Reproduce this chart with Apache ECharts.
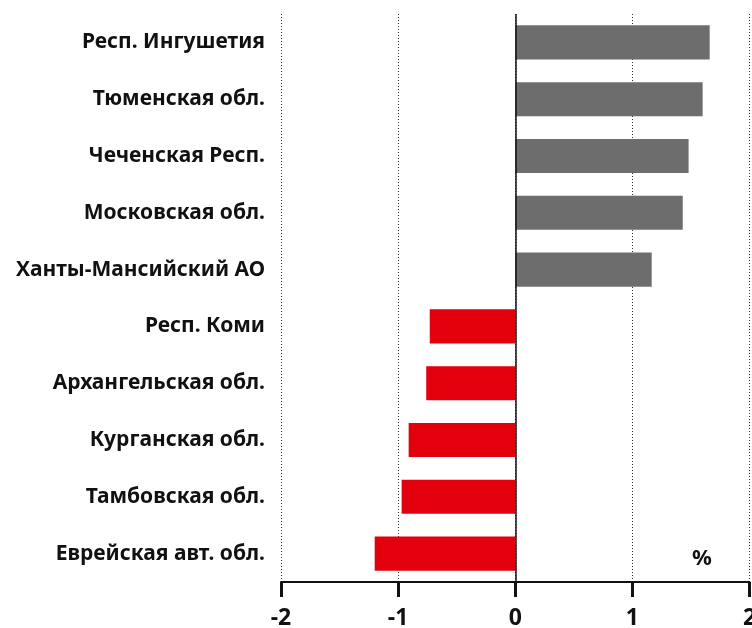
<!DOCTYPE html>
<html><head><meta charset="utf-8">
<script src="https://cdn.jsdelivr.net/npm/echarts@6/dist/echarts.min.js"></script>
<style>html,body{margin:0;padding:0;background:#fff;overflow:hidden}#c{width:752px;height:628px}</style>
</head><body><div id="c"></div>
<script>
const categories = ['Респ. Ингушетия','Тюменская обл.','Чеченская Респ.','Московская обл.','Ханты-Мансийский АО','Респ. Коми','Архангельская обл.','Курганская обл.','Тамбовская обл.','Еврейская авт. обл.'];
const values = [1.66, 1.60, 1.48, 1.43, 1.165, -0.73, -0.76, -0.91, -0.97, -1.20];
const xTicks = [-2, -1, 0, 1, 2];
const unitLabel = '%';

const FONT = '"Noto Sans", sans-serif';
const chart = echarts.init(document.getElementById('c'), null, {renderer: 'canvas', width: 752, height: 628});
chart.setOption({
  animation: false,
  grid: {left: 281, right: 2.5, top: 14, bottom: 46, containLabel: false, outerBoundsMode: 'none'},
  xAxis: {
    type: 'value', min: xTicks[0], max: xTicks[xTicks.length - 1], interval: 1,
    axisLine: {show: true, onZero: false, lineStyle: {color: '#111', width: 2}},
    axisTick: {show: true, length: 15, lineStyle: {color: '#111', width: 3}},
    axisLabel: {color: '#111', fontFamily: FONT, fontWeight: 'bold', fontSize: 23, margin: 25},
    splitLine: {show: true, lineStyle: {color: '#333', type: [1, 2], width: 1}}
  },
  yAxis: {
    type: 'category', data: categories, inverse: true,
    axisLine: {show: false, onZero: false},
    axisTick: {show: false},
    axisLabel: {color: '#111', fontFamily: FONT, fontWeight: 'bold', fontSize: 21, margin: 16, padding: [0, 0, 4, 0]}
  },
  series: [{
    type: 'bar', barWidth: '60%',
    data: values.map(v => ({value: v, itemStyle: {color: v >= 0 ? '#6d6d6d' : '#e1000b'}})),
    markLine: {
      silent: true, symbol: 'none', label: {show: false},
      lineStyle: {color: '#111', type: 'solid', width: 1.5},
      data: [{xAxis: 0}]
    }
  }],
  graphic: [{
    type: 'text', left: 692, top: 548,
    style: {text: unitLabel, fill: '#111', font: 'bold 22px ' + FONT}
  }]
});
</script></body></html>
